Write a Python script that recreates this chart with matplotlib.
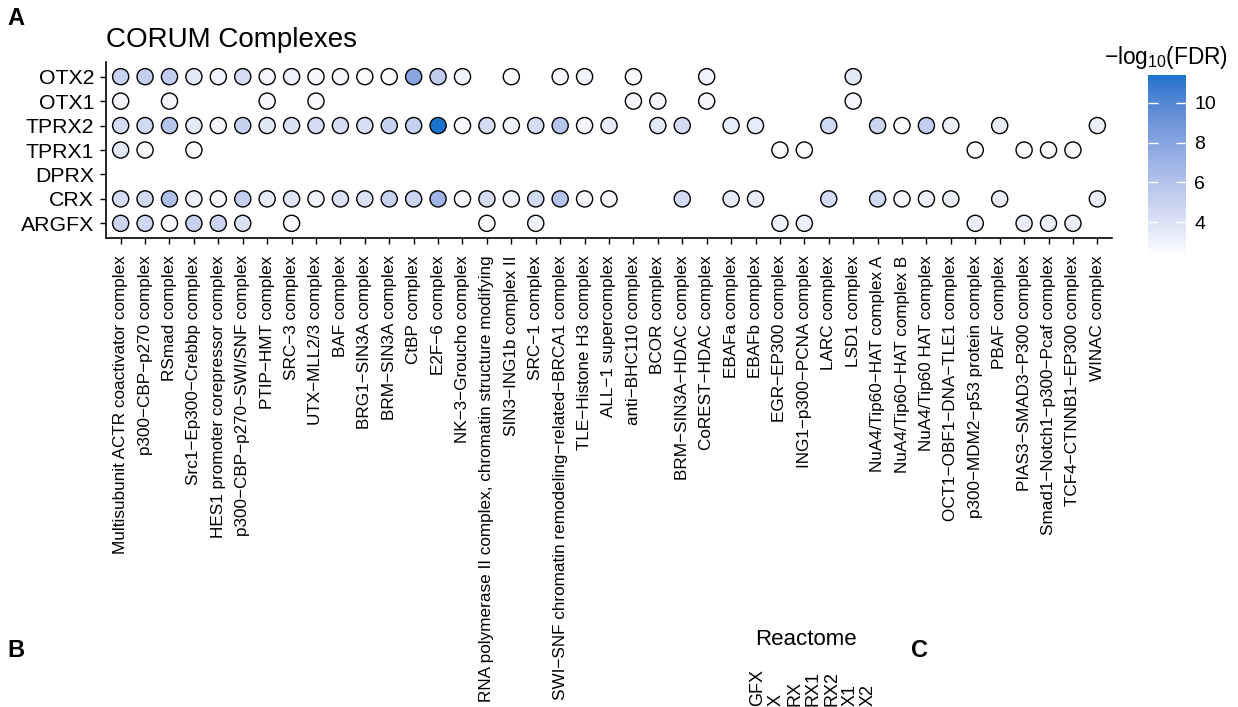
import numpy as np
import matplotlib.pyplot as plt
from matplotlib.colors import ListedColormap, Normalize, to_rgb

plt.rcParams['font.family'] = ['Liberation Sans', 'DejaVu Sans']
plt.rcParams['mathtext.fontset'] = 'custom'
plt.rcParams['mathtext.rm'] = 'Liberation Sans'
plt.rcParams['mathtext.it'] = 'Liberation Sans:italic'
plt.rcParams['mathtext.bf'] = 'Liberation Sans:bold'

W, H = 1238, 707

complexes = [
    'Multisubunit ACTR coactivator complex', 'p300−CBP−p270 complex', 'RSmad complex',
    'Src1−Ep300−Crebbp complex', 'HES1 promoter corepressor complex',
    'p300−CBP−p270−SWI/SNF complex', 'PTIP−HMT complex', 'SRC−3 complex',
    'UTX−MLL2/3 complex', 'BAF complex', 'BRG1−SIN3A complex', 'BRM−SIN3A complex',
    'CtBP complex', 'E2F−6 complex', 'NK−3−Groucho complex',
    'RNA polymerase II complex, chromatin structure modifying', 'SIN3−ING1b complex II',
    'SRC−1 complex', 'SWI−SNF chromatin remodeling−related−BRCA1 complex',
    'TLE−Histone H3 complex', 'ALL−1 supercomplex', 'anti−BHC110 complex', 'BCOR complex',
    'BRM−SIN3A−HDAC complex', 'CoREST−HDAC complex', 'EBAFa complex', 'EBAFb complex',
    'EGR−EP300 complex', 'ING1−p300−PCNA complex', 'LARC complex', 'LSD1 complex',
    'NuA4/Tip60−HAT complex A', 'NuA4/Tip60−HAT complex B', 'NuA4/Tip60 HAT complex',
    'OCT1−OBF1−DNA−TLE1 complex', 'p300−MDM2−p53 protein complex', 'PBAF complex',
    'PIAS3−SMAD3−P300 complex', 'Smad1−Notch1−p300−Pcaf complex',
    'TCF4−CTNNB1−EP300 complex', 'WINAC complex',
]

# rows from bottom to top
tfs = ['ARGFX', 'CRX', 'DPRX', 'TPRX1', 'TPRX2', 'OTX1', 'OTX2']

nan = np.nan
# -log10(FDR) per complex, nan where the complex is not enriched
otx2 = [5.0, 5.2, 5.3, 3.6, 2.9, 4.4, 2.8, 3.0, 2.7, 2.7,
        2.4, 2.4, 7.9, 5.3, 2.9, nan, 2.4, nan, 2.6, 2.9,
        nan, 2.6, nan, nan, 2.9, nan, nan, nan, nan, nan,
        3.6, nan, nan, nan, nan, nan, nan, nan, nan, nan,
        nan]
otx1 = [2.8, nan, 2.7, nan, nan, nan, 2.7, nan, 2.6, nan,
        nan, nan, nan, nan, nan, nan, nan, nan, nan, nan,
        nan, 2.7, 2.7, nan, 2.7, nan, nan, nan, nan, nan,
        2.8, nan, nan, nan, nan, nan, nan, nan, nan, nan,
        nan]
tprx2 = [4.4, 4.6, 5.8, 3.5, 2.8, 5.0, 3.7, 4.0, 4.3, 4.3,
         4.2, 5.0, 5.1, 11.4, 2.5, 4.3, 3.0, 4.3, 5.8, 2.7,
         3.3, nan, 3.6, 4.4, nan, 3.4, 3.4, nan, nan, 4.6,
         nan, 4.8, 2.4, 5.3, 3.1, nan, 3.3, nan, nan, nan,
         3.2]
tprx1 = [3.7, 2.4, nan, 2.4, nan, nan, nan, nan, nan, nan,
         nan, nan, nan, nan, nan, nan, nan, nan, nan, nan,
         nan, nan, nan, nan, nan, nan, nan, 2.4, 2.4, nan,
         nan, nan, nan, nan, nan, 2.4, nan, 2.4, 2.4, 2.4,
         nan]
dprx = [nan] * 41
crx = [4.4, 4.5, 6.2, 3.0, 2.6, 5.2, 3.4, 3.8, 3.0, 4.1,
       4.1, 5.0, 4.9, 6.9, 2.5, 4.4, 3.0, 4.5, 6.0, 2.7,
       2.5, nan, nan, 4.4, nan, 3.4, 3.4, nan, nan, 4.4,
       nan, 4.5, 2.5, 3.0, 3.2, nan, 3.3, nan, nan, nan,
       3.3]
argfx = [4.8, 4.7, 2.5, 5.0, 4.8, 4.1, nan, 2.5, nan, nan,
         nan, nan, nan, nan, nan, 2.4, nan, 2.9, nan, nan,
         nan, nan, nan, nan, nan, nan, nan, 3.0, 3.2, nan,
         nan, nan, nan, nan, nan, 3.1, nan, 3.2, 3.2, 3.2,
         nan]
rows = [argfx, crx, dprx, tprx1, tprx2, otx1, otx2]

cbar_ticks = [4, 6, 8, 10]
fdr_min, fdr_max = 2.2, 11.4

# row labels of the next panel (only their tops fit on the page)
reactome_tfs = ['GFX', 'X', 'RX', 'RX1', 'RX2', 'X1', 'X2']


# white -> dodgerblue3 gradient interpolated in CIELAB
# ==========================================================
M = np.array([[0.4124, 0.3576, 0.1805],
              [0.2126, 0.7152, 0.0722],
              [0.0193, 0.1192, 0.9505]])
WP = M @ np.ones(3)


def rgb2lab(c):
    c = np.asarray(c, float)
    lin = np.where(c <= 0.04045, c / 12.92, ((c + 0.055) / 1.055) ** 2.4)
    t = (M @ lin) / WP
    f = np.where(t > (6 / 29) ** 3, np.cbrt(t), t / (3 * (6 / 29) ** 2) + 4 / 29)
    return np.array([116 * f[1] - 16, 500 * (f[0] - f[1]), 200 * (f[1] - f[2])])


def lab2rgb(lab):
    L, a, b = lab
    fy = (L + 16) / 116
    f = np.array([fy + a / 500, fy, fy - b / 200])
    t = np.where(f > 6 / 29, f ** 3, 3 * (6 / 29) ** 2 * (f - 4 / 29)) * WP
    lin = np.linalg.solve(M, t)
    c = np.where(lin <= 0.0031308, 12.92 * lin, 1.055 * np.clip(lin, 0, None) ** (1 / 2.4) - 0.055)
    return np.clip(c, 0, 1)


lo, hi = rgb2lab(to_rgb('#ffffff')), rgb2lab(to_rgb('#1874cd'))
cmap = ListedColormap([lab2rgb(lo + (hi - lo) * s) for s in np.linspace(0, 1, 256)])
norm = Normalize(vmin=fdr_min, vmax=fdr_max)

fig = plt.figure(figsize=(W / 100, H / 100), dpi=100)


def box(x0, y0, x1, y1):
    # pixel box (top-left origin) -> figure fractions
    return [x0 / W, 1 - y1 / H, (x1 - x0) / W, (y1 - y0) / H]


# Panel A: dot plot
# ==========================================================
ax = fig.add_axes(box(106, 62, 1112, 238))
xs = np.arange(1, len(complexes) + 1)
for k, vals in enumerate(rows):
    vals = np.array(vals)
    m = ~np.isnan(vals)
    ax.scatter(xs[m], np.full(m.sum(), k + 1), c=vals[m], cmap=cmap, norm=norm,
               s=135, edgecolors='black', linewidths=1.0, zorder=3)

ax.set_xlim(0.4, len(complexes) + 0.6)
ax.set_ylim(0.4, len(tfs) + 0.6)
ax.set_xticks(xs)
ax.set_xticklabels(complexes, rotation=90, ha='center', va='top', fontsize=12.3)
ax.set_yticks(np.arange(1, len(tfs) + 1))
ax.set_yticklabels(tfs, fontsize=15.3)
ax.tick_params(axis='x', length=4.5, width=1, pad=8)
ax.tick_params(axis='y', length=4.5, width=1, pad=4)
for side in ['top', 'right']:
    ax.spines[side].set_visible(False)
for side in ['left', 'bottom']:
    ax.spines[side].set_linewidth(1.2)

# colour bar
# ==========================================================
cax = fig.add_axes(box(1148, 75, 1186, 258))
sm = plt.cm.ScalarMappable(cmap=cmap, norm=norm)
cb = fig.colorbar(sm, cax=cax)
cb.outline.set_visible(False)
cb.set_ticks(cbar_ticks)
cax.tick_params(which='both', direction='in', left=True, right=True,
                color='white', length=7, width=1,
                labelleft=False, labelright=True, labelsize=14, pad=6)
cax.minorticks_off()

fig.text(1166 / W, 1 - 64 / H, '−log$_{10}$(FDR)', ha='center', va='baseline', fontsize=16.3)

# titles and panel tags
# ==========================================================
fig.text(106 / W, 1 - 47 / H, 'CORUM Complexes', ha='left', va='baseline', fontsize=20)
fig.text(7 / W, 1 - 25 / H, 'A', ha='left', va='baseline', fontsize=17, fontweight='bold')
fig.text(7 / W, 1 - 657 / H, 'B', ha='left', va='baseline', fontsize=17, fontweight='bold')
fig.text(911 / W, 1 - 657 / H, 'C', ha='left', va='baseline', fontsize=17, fontweight='bold')
fig.text(755 / W, 1 - 645 / H, 'Reactome', ha='left', va='baseline', fontsize=16)

for k, name in enumerate(reactome_tfs):
    fig.text((758 + 18.4 * k) / W, 1 - 706 / H, name, rotation=90, rotation_mode='anchor',
             ha='left', va='center', fontsize=13)

plt.savefig('out.png', dpi=100)
